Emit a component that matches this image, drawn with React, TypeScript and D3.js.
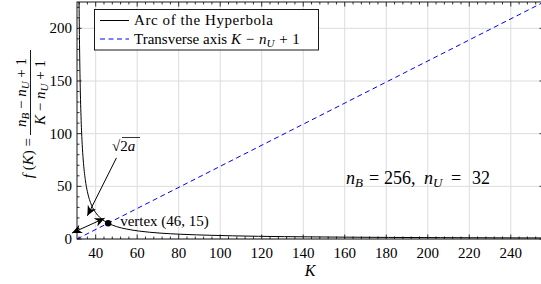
import * as d3 from "d3";

const width = 541;
const height = 284;

// arc of the hyperbola f(K) (n_B = 256, n_U = 32)
const arcK = [31.9, 32, 32.5, 33, 33.5, 34, 35, 36, 37, 38, 40, 42, 44, 46, 50, 55, 61, 71, 81, 96, 106, 131, 156, 181, 206, 231, 256];
const arcF = [250, 225, 150, 112.5, 90, 75, 56.3, 45, 37.5, 32.1, 25, 20.5, 17.3, 15, 11.8, 9.4, 7.5, 5.6, 4.5, 3.5, 3, 2.25, 1.8, 1.5, 1.29, 1.13, 1];

// transverse axis K - n_U + 1
const axisK = [31, 256];
const axisF = [0, 225];

const vertex = { k: 46, f: 15 };

const xTicks = [40, 60, 80, 100, 120, 140, 160, 180, 200, 220, 240];
const yTicks = [0, 50, 100, 150, 200];

const xDomain = [31, 256];
const yDomain = [0, 225];

const font = '"Liberation Serif", "DejaVu Serif", serif';

const App = () => {
  const x = d3.scaleLinear().domain(xDomain).range([77, 544]);
  const y = d3.scaleLinear().domain(yDomain).range([239, 2]);

  const [x0, x1] = x.range();
  const [y0, y1] = y.range();

  const xMinor = d3.range(32, 257, 4).filter(v => v % 20 !== 0);
  const yMinor = d3.range(10, 226, 10).filter(v => v % 50 !== 0);

  const line = d3.line<number>().x((_, i) => x(arcK[i])).y((_, i) => y(arcF[i])).curve(d3.curveMonotoneX);
  const arcPath = line(arcF);
  const axisPath = d3.line<number>().x((_, i) => x(axisK[i])).y((_, i) => y(axisF[i]))(axisF);

  const vx = x(vertex.k);
  const vy = y(vertex.f);

  return (
    <svg width={width} height={height} style={{ position: "absolute", left: 0, top: 0, background: "#fff", fontFamily: font }}>
      <defs>
        <clipPath id="plot">
          <rect x={x0} y={y1} width={x1 - x0} height={y0 - y1} />
        </clipPath>
        <marker id="head" viewBox="-12 -6 14 12" markerWidth="14" markerHeight="12" refX="0" refY="0"
          orient="auto-start-reverse" markerUnits="userSpaceOnUse">
          <path d="M0,0 L-10,-4.5 L-7,0 L-10,4.5 Z" fill="#000" />
        </marker>
      </defs>

      {/* grid */}
      <g stroke="#dcdcdc" strokeWidth={1}>
        {xTicks.map(t => <line key={"gx" + t} x1={x(t)} x2={x(t)} y1={y0} y2={y1} />)}
        {yTicks.map(t => <line key={"gy" + t} x1={x0} x2={x1} y1={y(t)} y2={y(t)} />)}
      </g>

      {/* ticks, inside on all four sides */}
      <g stroke="#000" strokeWidth={0.8}>
        {xTicks.map(t => (
          <g key={"tx" + t}>
            <line x1={x(t)} x2={x(t)} y1={y0} y2={y0 - 4.5} />
            <line x1={x(t)} x2={x(t)} y1={y1} y2={y1 + 4.5} />
          </g>
        ))}
        {xMinor.map(t => (
          <g key={"mx" + t}>
            <line x1={x(t)} x2={x(t)} y1={y0} y2={y0 - 2.5} />
            <line x1={x(t)} x2={x(t)} y1={y1} y2={y1 + 2.5} />
          </g>
        ))}
        {yTicks.map(t => (
          <g key={"ty" + t}>
            <line x1={x0} x2={x0 + 4.5} y1={y(t)} y2={y(t)} />
            <line x1={x1} x2={x1 - 4.5} y1={y(t)} y2={y(t)} />
          </g>
        ))}
        {yMinor.map(t => (
          <g key={"my" + t}>
            <line x1={x0} x2={x0 + 2.5} y1={y(t)} y2={y(t)} />
            <line x1={x1} x2={x1 - 2.5} y1={y(t)} y2={y(t)} />
          </g>
        ))}
      </g>

      {/* series */}
      <g clipPath="url(#plot)">
        <path d={axisPath ?? ""} fill="none" stroke="#0000ff" strokeWidth={1} strokeDasharray="5,3.5" />
        <path d={arcPath ?? ""} fill="none" stroke="#000" strokeWidth={1} />
      </g>

      {/* frame */}
      <rect x={x0} y={y1} width={x1 - x0} height={y0 - y1} fill="none" stroke="#000" strokeWidth={0.9} />

      {/* tick labels */}
      <g fontSize={15} fill="#000">
        {xTicks.map(t => (
          <text key={"lx" + t} x={x(t)} y={258} textAnchor="middle">{t}</text>
        ))}
        {yTicks.map(t => (
          <text key={"ly" + t} x={72} y={y(t) + 5} textAnchor="end">{t}</text>
        ))}
      </g>

      {/* axis labels */}
      <text x={310} y={276} fontSize={16} fontStyle="italic" textAnchor="middle">K</text>
      <g transform="rotate(-90)" fontSize={15}>
        <text x={-138} y={33} textAnchor="end">
          <tspan fontStyle="italic">f</tspan> (<tspan fontStyle="italic">K</tspan>) =
        </text>
        <line x1={-135} x2={-50} y1={30.5} y2={30.5} stroke="#000" strokeWidth={0.9} />
        <text x={-92.5} y={26} textAnchor="middle">
          <tspan fontStyle="italic">n</tspan><tspan fontStyle="italic" fontSize={11} dy={3}>B</tspan>
          <tspan dy={-3}> − </tspan><tspan fontStyle="italic">n</tspan>
          <tspan fontStyle="italic" fontSize={11} dy={3}>U</tspan><tspan dy={-3}> + 1</tspan>
        </text>
        <text x={-92.5} y={45} textAnchor="middle">
          <tspan fontStyle="italic">K</tspan><tspan> − </tspan><tspan fontStyle="italic">n</tspan>
          <tspan fontStyle="italic" fontSize={11} dy={3}>U</tspan><tspan dy={-3}> + 1</tspan>
        </text>
      </g>

      {/* annotations */}
      <line x1={x(31) - 5} y1={y(0) - 6} x2={vx - 3.5} y2={vy - 5} stroke="#000" strokeWidth={1}
        markerStart="url(#head)" markerEnd="url(#head)" />
      <line x1={x(50)} y1={y(77)} x2={x(36)} y2={y(22)} stroke="#000" strokeWidth={1} markerEnd="url(#head)" />
      <circle cx={vx} cy={vy} r={3.2} fill="#000" />
      <text x={vx + 12} y={vy + 3} fontSize={15}>vertex (46, 15)</text>
      <text x={112} y={151} fontSize={15}>√<tspan>2</tspan><tspan fontStyle="italic">a</tspan></text>
      <line x1={122} x2={140} y1={137.5} y2={137.5} stroke="#000" strokeWidth={0.8} />
      <text y={184} fontSize={18}>
        <tspan x={346} fontStyle="italic">n</tspan><tspan fontStyle="italic" fontSize={13} dy={3}>B</tspan>
        <tspan x={369} dy={-3}>=</tspan><tspan x={384}>256,</tspan><tspan x={424} fontStyle="italic">n</tspan>
        <tspan fontStyle="italic" fontSize={13} dy={3}>U</tspan><tspan x={451} dy={-3}>=</tspan><tspan x={472}>32</tspan>
      </text>

      {/* legend */}
      <g>
        <rect x={94.5} y={9.5} width={224} height={40.5} fill="#fff" stroke="#000" strokeWidth={0.9} />
        <line x1={100} x2={129} y1={20.5} y2={20.5} stroke="#000" strokeWidth={1} />
        <line x1={100} x2={129} y1={39} y2={39} stroke="#0000ff" strokeWidth={1} strokeDasharray="5,3.5" />
        <text x={134} y={25} fontSize={15} textLength={139}>Arc of the Hyperbola</text>
        <text x={134} y={43.5} fontSize={15}>
          Transverse axis <tspan fontStyle="italic">K</tspan><tspan dx={1}> − </tspan>
          <tspan dx={1} fontStyle="italic">n</tspan>
          <tspan fontStyle="italic" fontSize={11} dy={3}>U</tspan><tspan dy={-3} dx={1}> + </tspan><tspan dx={1}>1</tspan>
        </text>
      </g>
    </svg>
  );
};

export default App;
